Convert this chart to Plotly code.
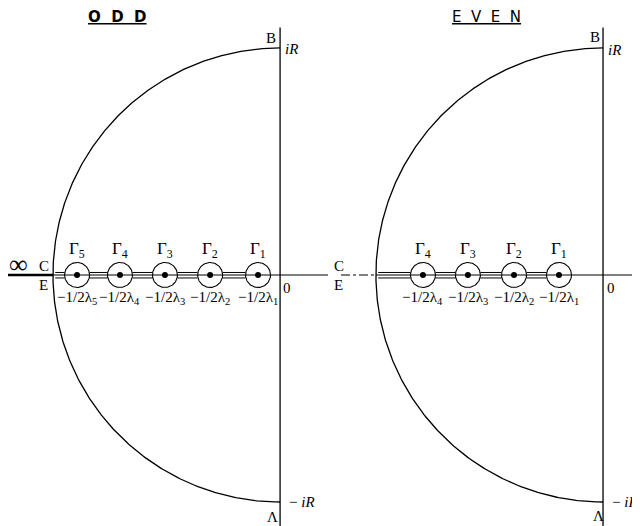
import numpy as np
import plotly.graph_objects as go
from plotly.subplots import make_subplots

# ---- data (positions in units of R, origin at 0) ----
odd_poles = [-0.894, -0.705, -0.507, -0.308, -0.097]
odd_pole_labels = ["−1/2λ<sub>5</sub>", "−1/2λ<sub>4</sub>", "−1/2λ<sub>3</sub>", "−1/2λ<sub>2</sub>", "−1/2λ<sub>1</sub>"]
odd_gamma_labels = ["Γ<sub>5</sub>", "Γ<sub>4</sub>", "Γ<sub>3</sub>", "Γ<sub>2</sub>", "Γ<sub>1</sub>"]

even_poles = [-0.793, -0.595, -0.392, -0.194]
even_pole_labels = ["−1/2λ<sub>4</sub>", "−1/2λ<sub>3</sub>", "−1/2λ<sub>2</sub>", "−1/2λ<sub>1</sub>"]
even_gamma_labels = ["Γ<sub>4</sub>", "Γ<sub>3</sub>", "Γ<sub>2</sub>", "Γ<sub>1</sub>"]

R = 1.0
r_small = 0.055
gap = 0.011

fig = make_subplots(rows=1, cols=2, horizontal_spacing=0)
SERIF = "Liberation Serif"
line_kw = dict(color="black", width=1.3)

def add_panel(col, poles, left_extent, infinity):
    fig.add_trace(go.Scatter(x=[0, 0], y=[1.09, -1.16], mode="lines", line=line_kw), row=1, col=col)
    t = np.linspace(np.pi / 2, 3 * np.pi / 2, 400)
    fig.add_trace(go.Scatter(x=R * np.cos(t), y=R * np.sin(t), mode="lines", line=line_kw), row=1, col=col)
    fig.add_trace(go.Scatter(x=[-R, 0.25], y=[0, 0], mode="lines", line=dict(color="black", width=1.1)), row=1, col=col)
    if infinity:
        fig.add_trace(go.Scatter(x=[left_extent, -R], y=[0, 0], mode="lines", line=dict(color="black", width=2.6)), row=1, col=col)
    else:
        fig.add_trace(go.Scatter(x=[left_extent, -R], y=[0, 0], mode="lines", line=dict(color="black", width=1.1, dash="dashdot")), row=1, col=col)
    xs_edges = [-R + 0.01] + list(poles)
    for i in range(len(poles)):
        x0 = xs_edges[i] + (r_small if i > 0 else 0)
        x1 = poles[i] - r_small
        for s in (gap, -gap * 1.2):
            fig.add_trace(go.Scatter(x=[x0, x1], y=[s, s], mode="lines", line=dict(color="black", width=1)), row=1, col=col)
    th = np.linspace(0, 2 * np.pi, 120)
    for p in poles:
        fig.add_trace(go.Scatter(x=p + r_small * np.cos(th), y=r_small * np.sin(th), mode="lines",
                                 line=dict(color="black", width=1.1)), row=1, col=col)
    fig.add_trace(go.Scatter(x=poles, y=[0] * len(poles), mode="markers",
                             marker=dict(color="black", size=6)), row=1, col=col)

add_panel(1, odd_poles, -1.2, True)
add_panel(2, even_poles, -1.154, False)

ann = []
def A(ref, x, y, text, size=14, family=SERIF):
    xr, yr = ("x", "y") if ref == 1 else ("x2", "y2")
    ann.append(dict(x=x, y=y, xref=xr, yref=yr, text=text, showarrow=False,
                    font=dict(family=family, size=size, color="black")))

for p, g, l in zip(odd_poles, odd_gamma_labels, odd_pole_labels):
    A(1, p, 0.112, g, 17)
    A(1, p, -0.101, l, 15)
for p, g, l in zip(even_poles, even_gamma_labels, even_pole_labels):
    A(2, p, 0.112, g, 17)
    A(2, p, -0.101, l, 15)

A(1, -1.150, 0.048, "∞", 26)
A(1, -1.040, 0.040, "C", 15)
A(1, -1.040, -0.044, "E", 15)
A(1, 0.031, -0.057, "0", 15)
A(1, -0.040, 1.044, "B", 15)
A(1, 0.052, 0.996, "<i>iR</i>", 15)
A(1, -0.035, -1.068, "Λ", 15)
A(1, 0.095, -1.0, "− <i>iR</i>", 15)

A(2, -1.163, 0.040, "C", 15)
A(2, -1.163, -0.044, "E", 15)
A(2, 0.035, -0.057, "0", 15)
A(2, -0.035, 1.048, "B", 15)
A(2, 0.052, 0.991, "<i>iR</i>", 15)
A(2, -0.022, -1.062, "Λ", 15)
A(2, 0.095, -1.0, "− <i>iR</i>", 15)

A(1, -0.714, 1.138, "<b><u>O&nbsp;&nbsp;D&nbsp;&nbsp;D</u></b>", 15, "DejaVu Sans")
A(2, -0.515, 1.138, "<u>E&nbsp;&nbsp;V&nbsp;&nbsp;E&nbsp;&nbsp;N</u>", 15, "DejaVu Sans")

# page body has an 8px margin: ranges are offset so marks land where the reference has them
fig.update_layout(
    width=640, height=526, margin=dict(l=0, r=0, t=0, b=0),
    plot_bgcolor="white", paper_bgcolor="white", showlegend=False,
    annotations=ann,
)
fig.update_xaxes(visible=False)
fig.update_yaxes(visible=False)
fig.update_layout(
    xaxis=dict(domain=[0, 0.5], range=[-1.198, 0.211]),
    xaxis2=dict(domain=[0.5, 1], range=[-1.211, 0.198]),
    yaxis=dict(range=[-1.141, 1.176]),
    yaxis2=dict(range=[-1.141, 1.176]),
)
fig.write_html("out.html")
